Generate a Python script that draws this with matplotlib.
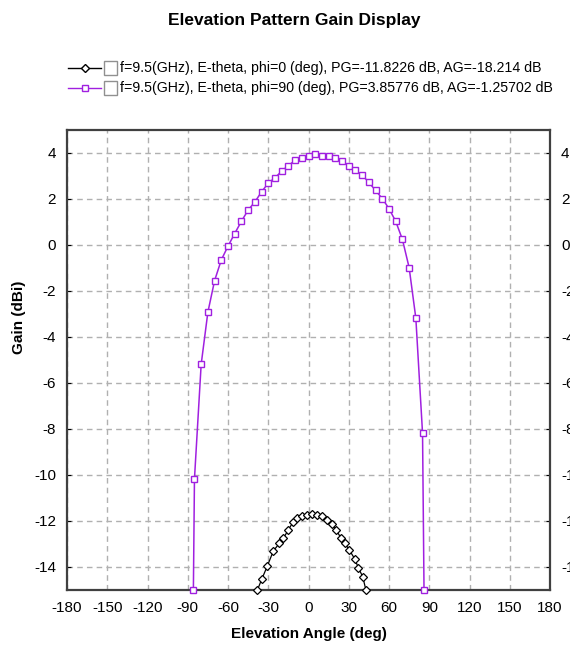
import matplotlib
matplotlib.use("Agg")
import matplotlib.pyplot as plt
from matplotlib.lines import Line2D
from matplotlib.patches import Rectangle

# phi = 90 cut (purple, squares)
phi90_angle = [-85.8, -85, -80, -75, -70, -65, -60, -55, -50, -45, -40, -35, -30,
               -25, -20, -15, -10, -5, 0, 5, 10, 15, 20, 25, 30, 35, 40, 45, 50,
               55, 60, 65, 70, 75, 80, 85, 86.1]
phi90_gain = [-15.0, -10.17, -5.19, -2.92, -1.55, -0.65, -0.05, 0.50, 1.03, 1.52,
              1.87, 2.31, 2.69, 2.92, 3.21, 3.45, 3.68, 3.79, 3.88, 3.95, 3.88,
              3.88, 3.79, 3.65, 3.45, 3.24, 3.04, 2.72, 2.37, 2.02, 1.58, 1.03,
              0.24, -0.98, -3.18, -8.18, -15.0]

# phi = 0 cut (black, diamonds)
phi0_angle = [-38.1, -34.9, -30.7, -26.2, -21.7, -18.8, -15.0, -11.3, -8.3, -5.1,
              -1.3, 2.4, 6.1, 9.8, 13.6, 17.3, 20.5, 24.0, 27.2, 30.4, 34.6,
              37.1, 40.4, 42.8]
phi0_gain = [-15.0, -14.54, -13.96, -13.30, -12.97, -12.76, -12.38, -12.03,
             -11.89, -11.77, -11.72, -11.68, -11.72, -11.77, -11.95, -12.13,
             -12.38, -12.72, -12.97, -13.26, -13.66, -14.03, -14.42, -15.0]

legend_labels = ["f=9.5(GHz), E-theta, phi=0 (deg), PG=-11.8226 dB, AG=-18.214 dB",
                 "f=9.5(GHz), E-theta, phi=90 (deg), PG=3.85776 dB, AG=-1.25702 dB"]
x_ticks = list(range(-180, 181, 30))
y_ticks = list(range(-14, 5, 2))

PURPLE = "#A020E0"
FONT = ["Liberation Sans", "DejaVu Sans"]
plt.rcParams["font.family"] = FONT
plt.rcParams["axes.unicode_minus"] = False

W, H = 570, 650
fig = plt.figure(figsize=(W / 100, H / 100), dpi=100)
ax = fig.add_axes([67 / W, 1 - 590 / H, (550 - 67) / W, (590 - 130) / H])

ax.plot(phi0_angle, phi0_gain, color="black", lw=0.9, marker="D", ms=4.5,
        mfc="white", mec="black", mew=0.9, clip_on=False, zorder=3)
ax.plot(phi90_angle, phi90_gain, color=PURPLE, lw=1.1, marker="s", ms=5,
        mfc="white", mec=PURPLE, mew=1.0, clip_on=False, zorder=3)

ax.set_xlim(-180, 180)
ax.set_ylim(-15, 5)
ax.set_xticks(x_ticks)
ax.set_yticks(y_ticks)
ax.grid(True, color="#B0B0B0", linestyle=(0, (4, 3)), linewidth=1.0)
ax.tick_params(axis="both", labelsize=11, length=0, pad=8)
ax.tick_params(axis="y", right=True, labelright=True, length=3, direction="in", pad=8)
for s in ax.spines.values():
    s.set_color("#404040")
    s.set_linewidth(1.6)

ax.set_xlabel("Elevation Angle (deg)", fontsize=11, fontweight="bold")
ax.xaxis.set_label_coords(0.5, -(627 - 590) / 460, transform=ax.transAxes)
ax.set_ylabel("Gain (dBi)", fontsize=11, fontweight="bold")
ax.yaxis.set_label_coords(-(67 - 26) / 483, (590 - 317) / 460, transform=ax.transAxes)

fig.text(294 / W, 1 - 21 / H, "Elevation Pattern Gain Display", ha="center",
         va="center", fontsize=12.5, fontweight="bold", family=FONT)

# legend drawn by hand: line sample, checkbox, text
colors = ["black", PURPLE]
markers = ["D", "s"]
for i, (lab, c, m) in enumerate(zip(legend_labels, colors, markers)):
    yy = 1 - (68 + 20 * i) / H
    fig.add_artist(Line2D([68 / W, 101 / W], [yy, yy], color=c, lw=1.0,
                          transform=fig.transFigure))
    fig.add_artist(Line2D([85 / W], [yy], color=c, marker=m, ms=4.5, mfc="white",
                          mec=c, transform=fig.transFigure))
    fig.add_artist(Rectangle((104 / W, yy - 7 / H), 13 / W, 14 / H, fill=False,
                             ec="#909090", lw=1.0, transform=fig.transFigure))
    fig.text(120 / W, yy, lab, ha="left", va="center", fontsize=10.2, family=FONT)

fig.savefig("out.png", dpi=100)
